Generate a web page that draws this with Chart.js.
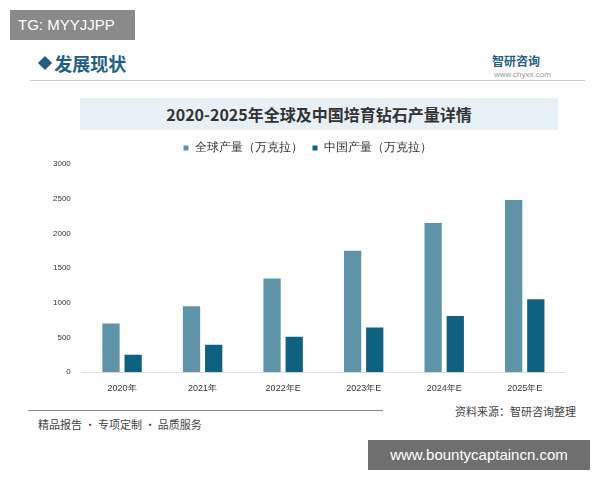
<!DOCTYPE html>
<html>
<head>
<meta charset="utf-8">
<script src="https://cdn.jsdelivr.net/npm/chart.js@4"></script>
<style>
  body { margin: 0; width: 600px; height: 480px; background: #fff; position: relative; overflow: hidden; font-family: "Noto Sans CJK SC", sans-serif; }
  .tg { position: absolute; left: 10px; top: 10px; width: 125px; height: 30px; background: #8a8a8a; color: #fff; font-size: 15px; line-height: 30px; padding-left: 8px; box-sizing: border-box; font-family: "Liberation Sans", sans-serif; }
  .head { position: absolute; left: 38px; top: 50px; font-size: 18px; color: #1f5f86; font-weight: bold; }
  .dia { position: absolute; left: 40px; top: 58px; width: 10px; height: 10px; background: #1f5f86; transform: rotate(45deg); }
  .logo { position: absolute; left: 492px; top: 52px; font-size: 12px; color: #1f5f86; font-weight: bold; }
  .url { position: absolute; left: 494px; top: 70px; font-size: 8px; color: #999; font-family: "Liberation Sans", sans-serif; }
  .hline { position: absolute; left: 30px; top: 80px; width: 555px; height: 1px; background: #ccc; }
  .band { position: absolute; left: 80px; top: 98px; width: 478px; height: 32px; background: #e6f0f5; text-align: center; line-height: 32px; font-size: 16px; font-weight: 600; color: #333; font-family: "Noto Sans CJK SC", serif; }
  .chart { position: absolute; left: 50px; top: 132px; width: 515px; height: 265px; }
  .fline { position: absolute; left: 28px; top: 410px; width: 355px; height: 1px; background: #888; }
  .foot { position: absolute; left: 38px; top: 416px; font-size: 11px; color: #444; }
  .src { position: absolute; left: 455px; top: 403px; font-size: 11px; color: #444; }
  .wm { position: absolute; left: 368px; top: 440px; width: 222px; height: 30px; background: #6f6f6f; color: #fff; font-size: 15px; line-height: 30px; text-align: center; font-family: "Liberation Sans", sans-serif; }
</style>
</head>
<body>
<div class="tg">TG: MYYJJPP</div>
<div class="dia"></div>
<div class="head">&nbsp;&nbsp;&nbsp;&nbsp;发展现状</div>
<div class="logo">智研咨询</div>
<div class="url">www.chyxx.com</div>
<div class="hline"></div>
<div class="band">2020-2025年全球及中国培育钻石产量详情</div>
<div class="chart"><canvas id="c"></canvas></div>
<div class="fline"></div>
<div class="foot">精品报告 · 专项定制 · 品质服务</div>
<div class="src">资料来源：智研咨询整理</div>
<div class="wm">www.bountycaptaincn.com</div>
<script>
const years = ['2020年', '2021年', '2022年E', '2023年E', '2024年E', '2025年E'];
const globalOutput = [700, 950, 1350, 1750, 2150, 2480];
const chinaOutput = [250, 395, 510, 645, 810, 1050];
const yTicks = [0, 500, 1000, 1500, 2000, 2500, 3000];

new Chart(document.getElementById('c'), {
  type: 'bar',
  data: {
    labels: years,
    datasets: [
      { label: '全球产量（万克拉）', data: globalOutput, backgroundColor: '#5f93a8' },
      { label: '中国产量（万克拉）', data: chinaOutput, backgroundColor: '#10607f' }
    ]
  },
  options: {
    responsive: true,
    maintainAspectRatio: false,
    animation: false,
    datasets: { bar: { barPercentage: 0.78, categoryPercentage: 0.55 } },
    scales: {
      x: {
        grid: { display: false },
        border: { color: '#ddd' },
        ticks: { color: '#333', font: { size: 9 } }
      },
      y: {
        min: 0, max: 3000,
        afterBuildTicks: ax => { ax.ticks = yTicks.map(v => ({ value: v })); },
        grid: { display: false },
        border: { display: false },
        ticks: { color: '#333', font: { size: 8 }, callback: v => String(v) }
      }
    },
    plugins: {
      legend: {
        position: 'top',
        labels: { boxWidth: 5, boxHeight: 5, color: '#333', font: { size: 12 } }
      },
      tooltip: { enabled: false }
    }
  }
});
</script>
</body>
</html>
